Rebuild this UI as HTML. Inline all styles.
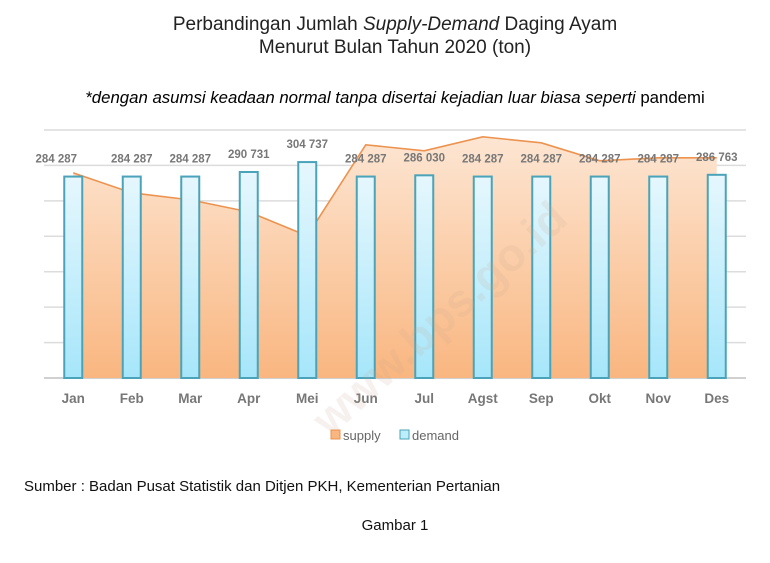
<!DOCTYPE html>
<html><head><meta charset="utf-8">
<style>
body{margin:0;background:#fff;width:770px;height:563px;overflow:hidden;font-family:"Liberation Sans",sans-serif;}
svg{display:block}
</style></head>
<body>
<svg width="770" height="563">
<defs>
<linearGradient id="ag" x1="0" y1="0" x2="0" y2="1"><stop offset="0" stop-color="#fde6d3"/><stop offset="1" stop-color="#f9b680"/></linearGradient>
<linearGradient id="bg" x1="0" y1="0" x2="0" y2="1"><stop offset="0" stop-color="#e6f7fd"/><stop offset="1" stop-color="#a6e6fa"/></linearGradient>
</defs>
<text x="395" y="30" text-anchor="middle" font-size="19" fill="#222">Perbandingan Jumlah <tspan font-style="italic">Supply-Demand</tspan> Daging Ayam</text>
<text x="395" y="53" text-anchor="middle" font-size="19" fill="#222">Menurut Bulan Tahun 2020 (ton)</text>
<text x="395" y="103" text-anchor="middle" font-size="16.8" fill="#000"><tspan font-style="italic">*dengan asumsi keadaan normal tanpa disertai kejadian luar biasa seperti</tspan> pandemi</text>
<g id="grid"></g>
<path id="area" fill="url(#ag)"/>
<path id="line" fill="none" stroke="#ec9350" stroke-width="1.6"/>
<g id="bars"></g>
<g id="labels"></g>
<g id="xt"></g>
<text x="450" y="330" text-anchor="middle" font-size="46" font-weight="bold" fill="#c8a890" opacity="0.15" transform="rotate(-42 450 330)">www.bps.go.id</text>
<g>
<rect x="331" y="430" width="9" height="9" fill="#f9b680" stroke="#ec9350"/>
<text x="343" y="440" font-size="13" fill="#666">supply</text>
<rect x="400" y="430" width="9" height="9" fill="#bdeefb" stroke="#4aa3b8"/>
<text x="412" y="440" font-size="13" fill="#666">demand</text>
</g>
<text x="24" y="491" font-size="15" fill="#111">Sumber : Badan Pusat Statistik dan Ditjen PKH, Kementerian Pertanian</text>
<text x="395" y="530" text-anchor="middle" font-size="15" fill="#111">Gambar 1</text>
</svg>
<script>
const months=["Jan","Feb","Mar","Apr","Mei","Jun","Jul","Agst","Sep","Okt","Nov","Des"];
const demand=[284287,284287,284287,290731,304737,284287,286030,284287,284287,284287,284287,286763];
const demandLabels=["284 287","284 287","284 287","290 731","304 737","284 287","286 030","284 287","284 287","284 287","284 287","286 763"];
const supply=[289500,261300,251400,234500,200600,329100,320600,340400,331900,306500,310700,310700];
const gridTicks=[0,50000,100000,150000,200000,250000,300000,350000];
const NS="http://www.w3.org/2000/svg";
const x0=44,x1=746,yBase=378,yTop=130,vMax=350000;
const step=(x1-x0)/12;
function xs(i){return x0+step*(i+0.5);}
function ys(v){return yBase-(yBase-yTop)*v/vMax;}
function mk(t,a,p){const e=document.createElementNS(NS,t);for(const k in a)e.setAttribute(k,a[k]);p.appendChild(e);return e;}
const grid=document.getElementById('grid');
gridTicks.forEach(v=>{const l=mk('line',{x1:x0,x2:x1,y1:ys(v),y2:ys(v),stroke:v===0?'#d0d0d0':'#dcdcdc','stroke-width':v===0?2:1.5},grid);

});
let d='M'+xs(0)+','+yBase;let ld='';
supply.forEach((v,i)=>{d+=' L'+xs(i)+','+ys(v);ld+=(i?' L':'M')+xs(i)+','+ys(v);});
d+=' L'+xs(11)+','+yBase+' Z';
document.getElementById('area').setAttribute('d',d);
document.getElementById('line').setAttribute('d',ld);
const bars=document.getElementById('bars'),labels=document.getElementById('labels'),xt=document.getElementById('xt');
demand.forEach((v,i)=>{
const b=mk('rect',{x:xs(i)-9,y:ys(v),width:18,height:yBase-ys(v),fill:'url(#bg)',stroke:'#4aa3b8','stroke-width':2},bars);


const t=mk('text',{x:xs(i)-(i===0?17:0),y:ys(v)-14,'text-anchor':'middle','font-size':11.5,'font-weight':'bold',fill:'#777'},labels);
t.textContent=demandLabels[i];


const m=mk('text',{x:xs(i),y:403,'text-anchor':'middle','font-size':13.5,'font-weight':'bold',fill:'#777'},xt);
m.textContent=months[i];


});
</script>
</body></html>
